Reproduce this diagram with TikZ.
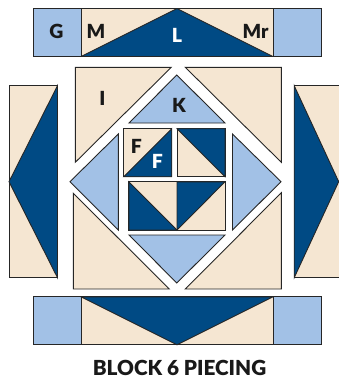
\documentclass[tikz,border=0pt]{standalone}
\usepackage{fontspec}
\setmainfont{Lato}[BoldFont={Lato Black}]
\definecolor{tanp}{HTML}{F5E6D2}
\definecolor{bluep}{HTML}{004A84}
\definecolor{skyp}{HTML}{A2C1E6}
\tikzset{
  x=1bp,y=-1bp,
  piece/.style={draw=black!85,line width=0.9bp,line join=miter},
  tanpiece/.style={piece,fill=tanp},
  bluepiece/.style={piece,fill=bluep},
  skypiece/.style={piece,fill=skyp},
  blk/.style={font=\bfseries\fontsize{19.5}{21}\selectfont,text=black!90,inner sep=0pt},
  wht/.style={font=\bfseries\fontsize{19.5}{21}\selectfont,text=white,inner sep=0pt},
}
\begin{document}
\begin{tikzpicture}
\useasboundingbox (0,0) rectangle (339,379);
% top strip
\draw[skypiece] (33,8.5) rectangle (81,56.5);
\draw[tanpiece] (81,8.5) rectangle (273,56.5);
\draw[bluepiece] (81,56.5) -- (177,8.5) -- (273,56.5) -- cycle;
\draw[skypiece] (273,8.5) rectangle (321,56.5);
% bottom strip
\draw[skypiece] (33,296.8) rectangle (81,344.8);
\draw[tanpiece] (81,296.8) rectangle (273,344.8);
\draw[bluepiece] (81,296.8) -- (177,344.8) -- (273,296.8) -- cycle;
\draw[skypiece] (273,296.8) rectangle (321,344.8);
% side strips
\draw[tanpiece] (9,85.7) rectangle (57.5,277.7);
\draw[bluepiece] (57.5,85.7) -- (9,181.7) -- (57.5,277.7) -- cycle;
\draw[tanpiece] (294.2,85.7) rectangle (345,277.7);
\draw[bluepiece] (294.2,85.7) -- (338.7,181.7) -- (294.2,277.7) -- cycle;
% corner I pieces
\draw[tanpiece] (75.3,67.3) -- (171.3,67.3) -- (75.3,162.3) -- cycle;
\draw[tanpiece] (185.3,67.3) -- (281.3,67.3) -- (281.3,162.3) -- cycle;
\draw[tanpiece] (73.3,193.3) -- (73.3,289) -- (169.3,289) -- cycle;
\draw[tanpiece] (281.3,192.7) -- (281.3,289) -- (185.3,289) -- cycle;
% K triangles
\draw[skypiece] (176.8,75) -- (129,123) -- (225,123) -- cycle;
\draw[skypiece] (70,181.7) -- (118.3,134) -- (118.3,230) -- cycle;
\draw[skypiece] (281,181.7) -- (232.5,134) -- (232.5,230) -- cycle;
\draw[skypiece] (129,235) -- (225,235) -- (176.8,283) -- cycle;
% centre
\draw[tanpiece] (123.7,128.7) rectangle (171.7,176.7);
\draw[bluepiece] (123.7,176.7) -- (171.7,128.7) -- (171.7,176.7) -- cycle;
\draw[tanpiece] (177,128.7) rectangle (225,176.7);
\draw[bluepiece] (177,128.7) -- (225,128.7) -- (225,176.7) -- cycle;
\draw[tanpiece] (128.8,181.8) rectangle (177,230);
\draw[bluepiece] (128.8,181.8) -- (177,230) -- (128.8,230) -- cycle;
\draw[tanpiece] (177,181.8) rectangle (225,230);
\draw[bluepiece] (177,181.8) -- (225,181.8) -- (177,230) -- cycle;
% labels
\node[blk] (g) at (56.5,31) {G};
\node[blk] (m) at (96,31) {M};
\node[wht] (l) at (177,35) {L};
\node[blk] (mr) at (255.5,31) {Mr};
\node[blk] (i) at (102.5,98) {I};
\node[blk] (k) at (179,105) {K};
\node[blk] (f1) at (136.5,146) {F};
\node[wht] (f2) at (157.5,161.5) {F};
\node[font=\bfseries\fontsize{20.8}{23}\selectfont,text=black!90,inner sep=0pt] (cap) at (179.5,368) {BLOCK 6 PIECING};
\end{tikzpicture}
\end{document}
